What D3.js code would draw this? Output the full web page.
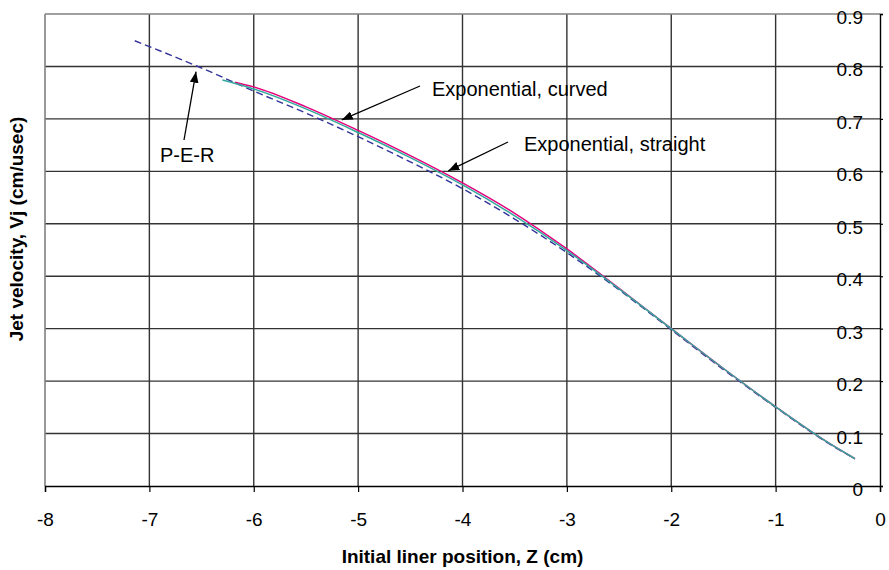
<!DOCTYPE html>
<html>

<head>
  <meta charset="utf-8">
  <script type="text/javascript" src="https://d3js.org/d3.v7.min.js"></script>
  <style>
    body { margin: 0; background: #fff; }
    text { font-family: "Liberation Sans", Arial, sans-serif; fill: #000; }
    .grid line { stroke: #333; stroke-width: 1.4px; }
    .series { fill: none; }
  </style>
</head>

<body>
  <script>
    // tick labels
    var xTicks = [-8, -7, -6, -5, -4, -3, -2, -1, 0];
    var yTicks = [0, 0.1, 0.2, 0.3, 0.4, 0.5, 0.6, 0.7, 0.8, 0.9];

    // P-E-R (dashed)
    var perZ = [-7.14, -6.5, -6, -5.5, -5, -4.5, -4, -3.5, -3, -2.5, -2, -1.5, -1, -0.5, -0.24];
    var perV = [0.849, 0.797, 0.753, 0.711, 0.666, 0.618, 0.567, 0.509, 0.445, 0.374, 0.298, 0.222, 0.150, 0.082, 0.052];

    // Exponential, curved
    var curvedZ = [-6.18, -6, -5.5, -5, -4.5, -4, -3.5, -3, -2.5, -2, -1.5, -1, -0.5, -0.24];
    var curvedV = [0.770, 0.761, 0.723, 0.678, 0.630, 0.578, 0.520, 0.452, 0.377, 0.300, 0.224, 0.151, 0.083, 0.052];

    // Exponential, straight
    var straightZ = [-6.30, -6, -5.5, -5, -4.5, -4, -3.5, -3, -2.5, -2, -1.5, -1, -0.5, -0.24];
    var straightV = [0.774, 0.757, 0.719, 0.674, 0.626, 0.574, 0.515, 0.449, 0.376, 0.300, 0.224, 0.151, 0.083, 0.052];

    var width = 889, height = 570;
    var x = d3.scaleLinear().domain([-8, 0]).range([45, 880]);
    var y = d3.scaleLinear().domain([0, 0.9]).range([486, 14]);

    var svg = d3.select("body").append("svg")
      .attr("width", width)
      .attr("height", height);

    // grid lines
    var grid = svg.append("g").attr("class", "grid");
    grid.selectAll(".vg").data(xTicks.slice(1, -1)).enter().append("line")
      .attr("x1", function (d) { return x(d); })
      .attr("x2", function (d) { return x(d); })
      .attr("y1", y(0.9)).attr("y2", y(0));
    grid.selectAll(".hg").data(yTicks.slice(1, -1)).enter().append("line")
      .attr("x1", x(-8)).attr("x2", x(0))
      .attr("y1", function (d) { return y(d); })
      .attr("y2", function (d) { return y(d); });

    // plot frame: grey left / top
    svg.append("line").attr("x1", x(-8)).attr("x2", x(-8)).attr("y1", y(0.9)).attr("y2", y(0))
      .attr("stroke", "#808080").attr("stroke-width", 1.6);
    svg.append("line").attr("x1", x(-8)).attr("x2", x(0)).attr("y1", y(0.9)).attr("y2", y(0.9))
      .attr("stroke", "#808080").attr("stroke-width", 1.6);

    // x axis at V = 0
    var xAxis = svg.append("g")
      .attr("transform", "translate(0," + y(0) + ")")
      .call(d3.axisBottom(x).tickValues(xTicks).tickSize(6).tickPadding(21)
        .tickFormat(function (d) { return String(d); }));
    xAxis.select(".domain").attr("stroke", "#000").attr("stroke-width", 1.4);
    xAxis.selectAll(".tick line").attr("stroke", "#000").attr("stroke-width", 1.2);
    xAxis.selectAll(".tick text").style("font-size", "19px").attr("fill", "#000");

    // y axis at Z = 0, labels sit left of it over the grid lines
    var yAxis = svg.append("g")
      .attr("transform", "translate(" + x(0) + ",0)")
      .call(d3.axisRight(y).tickValues(yTicks).tickSize(3)
        .tickFormat(function (d) { return d === 0 ? "0" : d3.format(".1f")(d); }));
    yAxis.select(".domain").attr("stroke", "#000").attr("stroke-width", 1.4);
    yAxis.selectAll(".tick line").attr("stroke", "#000").attr("stroke-width", 1.2);
    yAxis.selectAll(".tick text")
      .style("font-size", "19px")
      .attr("text-anchor", "end")
      .attr("x", -17)
      .attr("dy", "0.5em")
      .attr("fill", "#000");

    // series
    function pts(zs, vs) { return zs.map(function (z, i) { return [z, vs[i]]; }); }
    var line = d3.line()
      .x(function (d) { return x(d[0]); })
      .y(function (d) { return y(d[1]); })
      .curve(d3.curveMonotoneX);

    svg.append("path").datum(pts(perZ, perV)).attr("class", "series")
      .attr("d", line).attr("stroke", "#333399").attr("stroke-width", 1.4)
      .attr("stroke-dasharray", "7,4");
    svg.append("path").datum(pts(curvedZ, curvedV)).attr("class", "series")
      .attr("d", line).attr("stroke", "#e6007e").attr("stroke-width", 1.5);
    svg.append("path").datum(pts(straightZ, straightV)).attr("class", "series")
      .attr("d", line).attr("stroke", "#33a89c").attr("stroke-width", 1.5);

    // annotations with arrows
    svg.append("defs").append("marker")
      .attr("id", "arrow")
      .attr("viewBox", "0 0 10 8")
      .attr("refX", 10).attr("refY", 4)
      .attr("markerWidth", 11).attr("markerHeight", 9)
      .attr("markerUnits", "userSpaceOnUse")
      .attr("orient", "auto")
      .append("path").attr("d", "M0,0L10,4L0,8Z").attr("fill", "#000");

    var notes = [
      { text: "P-E-R", tx: 160, ty: 162, from: [184, 140], to: [-6.553, 0.79] },
      { text: "Exponential, curved", tx: 432, ty: 96, from: [420, 86], to: [-5.157, 0.698] },
      { text: "Exponential, straight", tx: 524, ty: 151, from: [508, 142], to: [-4.136, 0.601] }
    ];
    notes.forEach(function (n) {
      svg.append("line")
        .attr("x1", n.from[0]).attr("y1", n.from[1])
        .attr("x2", x(n.to[0])).attr("y2", y(n.to[1]))
        .attr("stroke", "#000").attr("stroke-width", 1.3)
        .attr("marker-end", "url(#arrow)");
      svg.append("text").attr("x", n.tx).attr("y", n.ty)
        .style("font-size", "20px").text(n.text);
    });

    // axis titles
    svg.append("text")
      .attr("x", (x(-8) + x(0)) / 2).attr("y", 563)
      .attr("text-anchor", "middle")
      .style("font-size", "19px").style("font-weight", "bold")
      .text("Initial liner position, Z (cm)");
    svg.append("text")
      .attr("transform", "translate(23,229) rotate(-90)")
      .attr("text-anchor", "middle")
      .style("font-size", "19px").style("font-weight", "bold")
      .text("Jet velocity, Vj (cm/usec)");
  </script>
</body>

</html>
